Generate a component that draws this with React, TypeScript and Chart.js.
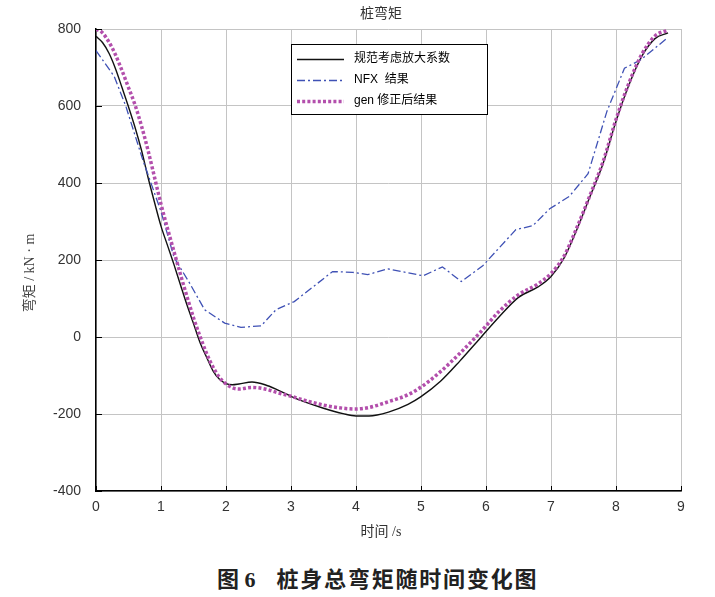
import React, { useEffect, useRef } from 'react';
import { Chart } from 'chart.js/auto';

// time axis (s) shared by the two smooth curves
const timeSmooth = [
  0, 0.1, 0.2, 0.3, 0.4, 0.5, 0.6, 0.7, 0.8, 0.9, 1.0, 1.1, 1.2, 1.3, 1.4, 1.5, 1.6, 1.7, 1.8, 1.9,
  2.0, 2.1, 2.2, 2.4, 2.6, 2.8, 3.0, 3.2, 3.5, 3.8, 4.0, 4.2, 4.5, 4.8, 5.0, 5.3, 5.6, 5.9, 6.2,
  6.5, 6.8, 7.0, 7.2, 7.4, 7.6, 7.8, 8.0, 8.2, 8.4, 8.6, 8.8,
];
// 规范考虑放大系数
const codeMoment = [
  781, 765, 737, 697, 648, 598, 545, 485, 415, 350, 288, 238, 188, 135, 83, 35, -14, -52, -88, -110,
  -121, -124, -122, -117, -124, -138, -154, -168, -185, -199, -205, -205, -195, -175, -155, -115, -62, -5, 52,
  103, 130, 157, 205, 280, 365, 450, 560, 655, 730, 775, 790,
];
// gen 修正后结果
const genMoment = [
  800, 790, 766, 733, 692, 648, 603, 548, 485, 415, 345, 282, 222, 162, 105, 50, 2, -42, -78, -105,
  -122, -132, -135, -131, -135, -145, -154, -164, -177, -185, -187, -183, -168, -150, -130, -90, -42, 10, 66,
  110, 138, 165, 210, 285, 368, 455, 565, 660, 735, 782, 797,
];
// NFX 结果 (polyline)
const nfxTime = [
  0, 0.28, 0.46, 0.72, 1.0, 1.2, 1.44, 1.67, 1.98, 2.23, 2.54, 2.77, 3.05, 3.64, 3.95, 4.18, 4.49,
  5.03, 5.33, 5.62, 5.95, 6.46, 6.72, 6.98, 7.28, 7.57, 7.86, 8.13, 8.38, 8.8,
];
const nfxMoment = [
  744, 677, 599, 460, 326, 207, 140, 71, 36, 25, 29, 71, 92, 170, 168, 162, 177,
  159, 182, 144, 185, 279, 289, 333, 365, 424, 586, 698, 720, 778,
];

const legendLabels = ['规范考虑放大系数', 'NFX  结果', 'gen 修正后结果'];
const chartTitle = '桩弯矩';
const xTitle = '时间 /s';
const yTitle = '弯矩 / kN · m';
const caption = '桩身总弯矩随时间变化图';

const tickFont = { family: '"Liberation Sans", Arial, sans-serif', size: 14 };

const decorPlugin = {
  id: 'decor',
  afterDraw(chart: any) {
    const { ctx, chartArea, scales } = chart;
    ctx.save();

    // inward tick marks
    ctx.strokeStyle = '#000';
    ctx.lineWidth = 1;
    ctx.setLineDash([]);
    scales.x.ticks.forEach((tk: any) => {
      const px = Math.round(scales.x.getPixelForValue(tk.value)) + 0.5;
      ctx.beginPath();
      ctx.moveTo(px, chartArea.bottom);
      ctx.lineTo(px, chartArea.bottom - 5);
      ctx.stroke();
    });
    scales.y.ticks.forEach((tk: any) => {
      const py = Math.round(scales.y.getPixelForValue(tk.value)) + 0.5;
      ctx.beginPath();
      ctx.moveTo(chartArea.left, py);
      ctx.lineTo(chartArea.left + 6, py);
      ctx.stroke();
    });

    // legend box
    ctx.fillStyle = '#fff';
    ctx.fillRect(291.5, 44.5, 196, 70);
    ctx.strokeStyle = '#000';
    ctx.lineWidth = 1;
    ctx.strokeRect(291.5, 44.5, 196, 70);
    chart.data.datasets.forEach((ds: any, i: number) => {
      const y = 59.5 + i * 21;
      ctx.strokeStyle = ds.borderColor;
      ctx.lineWidth = ds.borderWidth;
      ctx.setLineDash(ds.borderDash || []);
      ctx.beginPath();
      ctx.moveTo(297, y);
      ctx.lineTo(344, y);
      ctx.stroke();
      ctx.setLineDash([]);
      ctx.fillStyle = '#000';
      ctx.font = '12px "Liberation Sans", "Noto Sans CJK SC", sans-serif';
      ctx.textAlign = 'left';
      ctx.textBaseline = 'middle';
      ctx.fillText(ds.label, 354, y - 1);
    });

    // titles
    ctx.fillStyle = '#333';
    ctx.textAlign = 'center';
    ctx.textBaseline = 'middle';
    ctx.font = '14px "Noto Sans CJK SC", sans-serif';
    ctx.fillText(chartTitle, 381, 13);
    ctx.font = '14px "Liberation Serif", "Noto Sans CJK SC", serif';
    ctx.fillText(xTitle, 381, 532);
    ctx.fillStyle = '#444';
    ctx.translate(30, 273);
    ctx.rotate(-Math.PI / 2);
    ctx.fillText(yTitle, 0, 0);

    ctx.restore();
  },
};

export default function App() {
  const canvasRef = useRef<HTMLCanvasElement>(null);

  useEffect(() => {
    const el = canvasRef.current;
    if (!el) return;

    const chart = new Chart(el, {
      type: 'line',
      data: {
        datasets: [
          {
            label: legendLabels[0],
            data: timeSmooth.map((t, i) => ({ x: t, y: codeMoment[i] })),
            borderColor: '#111',
            borderWidth: 1.4,
            pointRadius: 0,
            cubicInterpolationMode: 'monotone',
            order: 2,
          },
          {
            label: legendLabels[1],
            data: nfxTime.map((t, i) => ({ x: t, y: nfxMoment[i] })),
            borderColor: '#3f51b5',
            borderWidth: 1.3,
            borderDash: [8, 3, 2, 3],
            pointRadius: 0,
            tension: 0,
            order: 1,
          },
          {
            label: legendLabels[2],
            data: timeSmooth.map((t, i) => ({ x: t, y: genMoment[i] })),
            borderColor: '#b34fac',
            borderWidth: 3.5,
            borderDash: [3, 2.2],
            pointRadius: 0,
            cubicInterpolationMode: 'monotone',
            order: 0,
          },
        ],
      },
      options: {
        responsive: false,
        animation: false,
        layout: { padding: { left: 0, top: 29, right: 34, bottom: 0 } },
        plugins: {
          legend: { display: false },
          tooltip: { enabled: false },
        },
        scales: {
          x: {
            type: 'linear',
            min: 0,
            max: 9,
            ticks: { stepSize: 1, padding: 8, color: '#333', font: tickFont },
            grid: { color: '#c4c4c4', lineWidth: 1, drawTicks: false },
            border: { color: '#000', width: 1.5 },
            afterFit: (s: any) => { s.height = 59; },
          },
          y: {
            min: -400,
            max: 800,
            ticks: { stepSize: 200, padding: 15, color: '#333', font: tickFont },
            grid: { color: '#c4c4c4', lineWidth: 1, drawTicks: false },
            border: { color: '#000', width: 1.5 },
            afterFit: (s: any) => { s.width = 96; },
          },
        },
      },
      plugins: [decorPlugin],
    });

    return () => chart.destroy();
  }, []);

  return (
    <div style={{ position: 'absolute', left: 0, top: 0, width: 715, height: 597, background: '#fff' }}>
      <canvas ref={canvasRef} width={715} height={550} style={{ display: 'block' }} />
      <div
        style={{
          position: 'absolute',
          left: 217,
          top: 566,
          fontSize: 22,
          lineHeight: '28px',
          fontWeight: 'bold',
          color: '#222',
          whiteSpace: 'nowrap',
          fontFamily: '"Liberation Serif", "Noto Sans CJK SC", serif',
        }}
      >
        <span>图 6</span>
        <span style={{ marginLeft: 21, letterSpacing: 1.8 }}>{caption}</span>
      </div>
    </div>
  );
}
